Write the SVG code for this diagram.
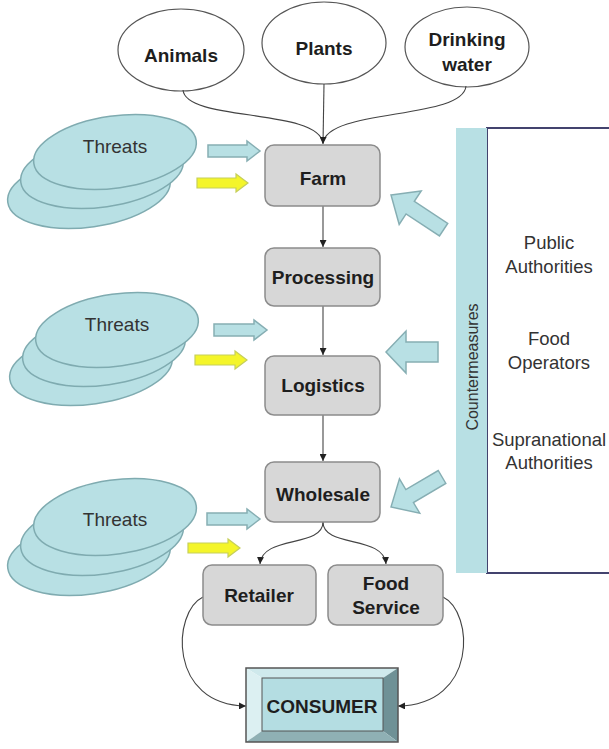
<svg xmlns="http://www.w3.org/2000/svg" width="609" height="749" viewBox="0 0 609 749">
<defs>
<style>
.src{fill:#fff;stroke:#555;stroke-width:1.2}
.node{fill:#d7d7d7;stroke:#8c8c8c;stroke-width:1.5}
.bt{font-family:"Liberation Sans",Arial,sans-serif;font-weight:bold;font-size:19px;fill:#1e1e1e;text-anchor:middle}
.rt{font-family:"Liberation Sans",Arial,sans-serif;font-size:18.5px;fill:#333;text-anchor:middle}
.thr{fill:#b8e0e4;stroke:#7fabb0;stroke-width:1.5}
.con{fill:none;stroke:#444;stroke-width:1.1}
.barrow{fill:#b8e0e4;stroke:#86aeb3;stroke-width:1.5}
.yarrow{fill:#f4f52a;stroke:#c6cf5a;stroke-width:1.2}
</style>
<marker id="ah" viewBox="0 0 10 10" refX="10" refY="5" markerWidth="7" markerHeight="7" markerUnits="userSpaceOnUse" orient="auto">
<path d="M0,0 L10,5 L0,10 Z" fill="#222"/>
</marker>
<path id="bigArrow" d="M0,0 L23,-20 L23,-7.5 L63,-7.5 L63,7.5 L23,7.5 L23,20 Z"/>
</defs>
<rect width="609" height="749" fill="#fff"/>

<!-- Countermeasures panel -->
<g id="countermeasures">
<rect x="487" y="128" width="130" height="445" fill="#fff" stroke="#43436e" stroke-width="2"/>
<rect x="456" y="128" width="31" height="445" fill="#b8e0e4"/>
<text class="rt" font-size="16" transform="translate(478,367) rotate(-90)" style="font-size:16px">Countermeasures</text>
<text class="rt" x="549" y="249">Public</text>
<text class="rt" x="549" y="273">Authorities</text>
<text class="rt" x="549" y="345">Food</text>
<text class="rt" x="549" y="369">Operators</text>
<text class="rt" x="549" y="446">Supranational</text>
<text class="rt" x="549" y="469">Authorities</text>
</g>

<!-- countermeasure arrows -->
<g id="cm-arrows">
<use href="#bigArrow" class="barrow" transform="translate(391,195) rotate(33.4)"/>
<path class="barrow" d="M386,352 L406,331 L406,342 L438,342 L438,362 L406,362 L406,373 Z"/>
<use href="#bigArrow" class="barrow" transform="translate(391,507) rotate(-30.5) scale(0.94,1)"/>
</g>

<!-- Source ellipses -->
<g id="animals"><ellipse class="src" cx="181" cy="50" rx="63" ry="41"/><text class="bt" x="181" y="62">Animals</text></g>
<g id="plants"><ellipse class="src" cx="324" cy="43" rx="62" ry="41"/><text class="bt" x="324" y="55">Plants</text></g>
<g id="water"><ellipse class="src" cx="467" cy="47" rx="62" ry="40"/><text class="bt" x="467" y="46">Drinking</text><text class="bt" x="467" y="71">water</text></g>

<!-- Threat stacks -->
<g id="threats1">
<ellipse class="thr" cx="89" cy="191" rx="82" ry="36" transform="rotate(-8 89 191)"/>
<ellipse class="thr" cx="102" cy="171" rx="82" ry="36" transform="rotate(-8 102 171)"/>
<ellipse class="thr" cx="115" cy="152" rx="82" ry="36" transform="rotate(-8 115 152)"/>
<text class="rt" x="115" y="153" style="font-size:19px">Threats</text>
</g>
<g id="threats2">
<ellipse class="thr" cx="91" cy="368" rx="82" ry="36" transform="rotate(-8 91 368)"/>
<ellipse class="thr" cx="104" cy="349" rx="82" ry="36" transform="rotate(-8 104 349)"/>
<ellipse class="thr" cx="117" cy="330" rx="82" ry="36" transform="rotate(-8 117 330)"/>
<text class="rt" x="117" y="331" style="font-size:19px">Threats</text>
</g>
<g id="threats3">
<ellipse class="thr" cx="89" cy="557" rx="82" ry="37" transform="rotate(-8 89 557)"/>
<ellipse class="thr" cx="102" cy="537" rx="82" ry="37" transform="rotate(-8 102 537)"/>
<ellipse class="thr" cx="115" cy="517" rx="82" ry="37" transform="rotate(-8 115 517)"/>
<text class="rt" x="115" y="526" style="font-size:19px">Threats</text>
</g>

<!-- threat arrows -->
<g id="threat-arrows">
<path class="barrow" d="M208,145 L247,145 L247,141 L260,151 L247,161 L247,157 L208,157 Z"/>
<path class="yarrow" d="M197,178 L236,178 L236,174 L248,183 L236,192 L236,188 L197,188 Z"/>
<path class="barrow" d="M214,324 L254,324 L254,320 L267,330 L254,340 L254,336 L214,336 Z"/>
<path class="yarrow" d="M195,355 L235,355 L235,351 L247,360 L235,369 L235,365 L195,365 Z"/>
<path class="barrow" d="M207,513 L247,513 L247,509 L260,519 L247,529 L247,525 L207,525 Z"/>
<path class="yarrow" d="M188,543 L228,543 L228,539 L240,548 L228,557 L228,553 L188,553 Z"/>
</g>

<!-- Connectors -->
<g id="connectors">
<path class="con" d="M183,90 C186,122 318,108 323,143"/>
<path class="con" d="M466,86 C463,120 328,108 323,143"/>
<path class="con" d="M324,84 L323,144" marker-end="url(#ah)"/>
<path class="con" d="M323,206 L323,247" marker-end="url(#ah)"/>
<path class="con" d="M323,306 L323,355" marker-end="url(#ah)"/>
<path class="con" d="M323,415 L323,461" marker-end="url(#ah)"/>
<path class="con" d="M323,522 C323,548 262,535 260,564" marker-end="url(#ah)"/>
<path class="con" d="M323,522 C323,548 384,535 386,564" marker-end="url(#ah)"/>
<path class="con" d="M203,597 C172,612 168,705 246,706" marker-end="url(#ah)"/>
<path class="con" d="M443,597 C474,612 478,705 398,706" marker-end="url(#ah)"/>
</g>

<!-- Chain nodes -->
<g id="farm"><rect class="node" x="265" y="145" width="115" height="61" rx="9"/><text class="bt" x="323" y="185">Farm</text></g>
<g id="processing"><rect class="node" x="265" y="248" width="115" height="58" rx="9"/><text class="bt" x="323" y="284">Processing</text></g>
<g id="logistics"><rect class="node" x="265" y="356" width="115" height="59" rx="9"/><text class="bt" x="323" y="392">Logistics</text></g>
<g id="wholesale"><rect class="node" x="265" y="462" width="115" height="60" rx="9"/><text class="bt" x="323" y="501">Wholesale</text></g>
<g id="retailer"><rect class="node" x="203" y="565" width="113" height="60" rx="9"/><text class="bt" x="259" y="602">Retailer</text></g>
<g id="foodservice"><rect class="node" x="328" y="565" width="115" height="60" rx="9"/><text class="bt" x="386" y="590">Food</text><text class="bt" x="386" y="614">Service</text></g>

<!-- Consumer -->
<g id="consumer">
<polygon points="246,668 398,668 383,678 262,678" fill="#cfe9ec"/>
<polygon points="246,668 262,678 262,731 246,742" fill="#dcf0f2"/>
<polygon points="398,668 398,742 383,731 383,678" fill="#6f9196"/>
<polygon points="246,742 262,731 383,731 398,742" fill="#8fb0b4"/>
<rect x="262" y="678" width="121" height="53" fill="#b4dde2" stroke="#555" stroke-width="1"/>
<rect x="246" y="668" width="152" height="74" fill="none" stroke="#555" stroke-width="1.5"/>
<text class="bt" x="322" y="713">CONSUMER</text>
</g>
</svg>
